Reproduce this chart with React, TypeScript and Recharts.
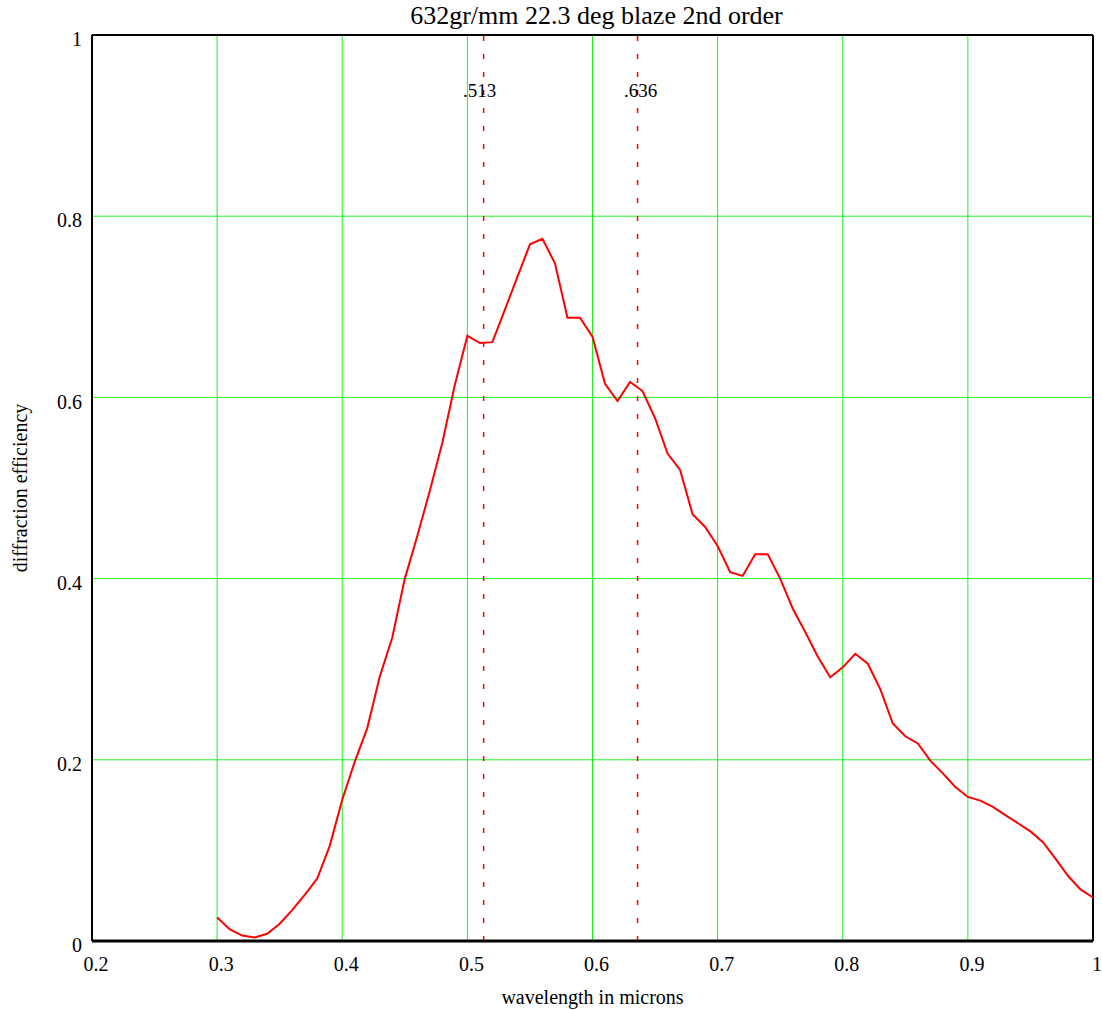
import { LineChart, Line, XAxis, YAxis, CartesianGrid, ReferenceLine } from "recharts";

const wavelengths = [
  0.3, 0.31, 0.32, 0.33, 0.34, 0.35, 0.36, 0.37, 0.38, 0.39,
  0.4, 0.41, 0.42, 0.43, 0.44, 0.45, 0.46, 0.47, 0.48, 0.49,
  0.5, 0.51, 0.52, 0.53, 0.54, 0.55, 0.56, 0.57, 0.58, 0.59,
  0.6, 0.61, 0.62, 0.63, 0.64, 0.65, 0.66, 0.67, 0.68, 0.69,
  0.7, 0.71, 0.72, 0.73, 0.74, 0.75, 0.76, 0.77, 0.78, 0.79,
  0.8, 0.81, 0.82, 0.83, 0.84, 0.85, 0.86, 0.87, 0.88, 0.89,
  0.9, 0.91, 0.92, 0.93, 0.94, 0.95, 0.96, 0.97, 0.98, 0.99, 1.0,
];

const efficiency = [
  0.026, 0.013, 0.006, 0.004, 0.008, 0.019, 0.034, 0.051, 0.069, 0.105,
  0.156, 0.198, 0.235, 0.292, 0.335, 0.4, 0.447, 0.497, 0.55, 0.614,
  0.668, 0.66, 0.661, 0.697, 0.733, 0.769, 0.775, 0.748, 0.688, 0.688,
  0.667, 0.615, 0.596, 0.617, 0.607, 0.577, 0.538, 0.52, 0.471, 0.457,
  0.436, 0.407, 0.403, 0.427, 0.427, 0.4, 0.367, 0.341, 0.314, 0.291,
  0.302, 0.317, 0.306, 0.278, 0.24, 0.226, 0.218, 0.199, 0.185, 0.17,
  0.159, 0.155, 0.148, 0.139, 0.13, 0.121, 0.109, 0.091, 0.072, 0.057, 0.048,
];

const xTicks = [0.2, 0.3, 0.4, 0.5, 0.6, 0.7, 0.8, 0.9, 1];
const yTicks = [0, 0.2, 0.4, 0.6, 0.8, 1];

// marked wavelengths (blaze range)
const markers = [0.513, 0.636];
const markerLabels = [".513", ".636"];

const serif = "'Liberation Serif', 'Times New Roman', serif";
const green = "#22ee22";

const data = wavelengths.map((w, i) => ({ w, eff: efficiency[i] }));

function MarkerLabel({ viewBox, text, dx }: any) {
  if (!viewBox) return null;
  return (
    <text
      x={viewBox.x + dx}
      y={viewBox.y + 62}
      textAnchor="middle"
      fontFamily={serif}
      fontSize={19}
      fill="#000"
    >
      {text}
    </text>
  );
}

export default function App() {
  return (
    <div style={{ position: "absolute", left: 0, top: 0, width: 1102, height: 1010, background: "#fff", fontFamily: serif }}>
      <div
        style={{
          position: "absolute",
          left: 96,
          width: 1001,
          top: 1,
          textAlign: "center",
          fontSize: 26,
          color: "#000",
          lineHeight: "30px",
          whiteSpace: "nowrap",
        }}
      >
        632gr/mm 22.3 deg blaze 2nd order
      </div>
      <LineChart
        width={1102}
        height={1010}
        data={data}
        margin={{ top: 35, right: 9, bottom: 0, left: 0 }}
      >
        <CartesianGrid stroke={green} strokeWidth={1} />
        <XAxis
          dataKey="w"
          type="number"
          domain={[0.2, 1]}
          ticks={xTicks}
          height={69}
          tickLine={false}
          tickSize={0}
          tickMargin={16}
          axisLine={{ stroke: "#000", strokeWidth: 3 }}
          tick={{ fontFamily: serif, fontSize: 20, fill: "#000", dx: 4 }}
          label={{
            value: "wavelength in microns",
            position: "insideBottom",
            offset: 6,
            style: { fontFamily: serif, fontSize: 20, fill: "#000" },
          }}
        />
        <YAxis
          type="number"
          domain={[0, 1]}
          ticks={yTicks}
          width={92}
          tickLine={false}
          tickSize={0}
          tickMargin={10}
          axisLine={{ stroke: "#000", strokeWidth: 2 }}
          tick={{ fontFamily: serif, fontSize: 20, fill: "#000", dy: 4 }}
          label={{
            value: "diffraction efficiency",
            angle: -90,
            position: "insideLeft",
            offset: 20,
            style: { fontFamily: serif, fontSize: 20, fill: "#000", textAnchor: "middle" },
          }}
        />
        <ReferenceLine y={1} stroke="#000" strokeWidth={2} />
        <ReferenceLine x={1} stroke="#000" strokeWidth={2} />
        {markers.map((m, i) => (
          <ReferenceLine
            key={m}
            x={m}
            stroke="#ff0000"
            strokeOpacity={1}
            strokeWidth={1.5}
            strokeDasharray="5 13"
            style={{ stroke: "#ff0000" }}
            label={<MarkerLabel text={markerLabels[i]} dx={i === 0 ? -4 : 3} />}
          />
        ))}
        <Line
          type="linear"
          dataKey="eff"
          stroke="#ff0000"
          strokeWidth={2}
          dot={false}
          isAnimationActive={false}
        />
      </LineChart>
    </div>
  );
}
